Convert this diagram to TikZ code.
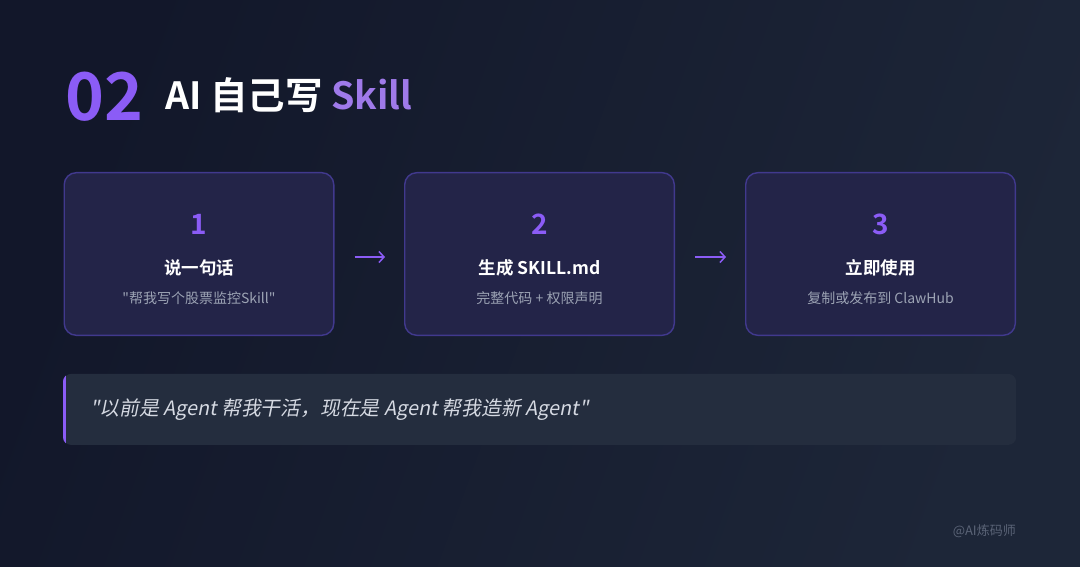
\documentclass[tikz,border=0pt]{standalone}
\usepackage{fontspec}
\setmainfont{Noto Sans CJK SC}[Ligatures=TeXOff, BoldFont={Noto Sans CJK SC Bold}, ItalicFont={Noto Sans CJK SC}, ItalicFeatures={FakeSlant=0.2}]
\usetikzlibrary{arrows.meta,positioning}
\definecolor{bgdark}{HTML}{12172A}
\definecolor{bglight}{HTML}{1D2638}
\definecolor{accent}{HTML}{8B5CF6}
\definecolor{skillpurple}{HTML}{9F7AEA}
\definecolor{cardfill}{HTML}{232448}
\definecolor{cardline}{HTML}{41398E}
\definecolor{subgray}{HTML}{9CA3B4}
\definecolor{quotefill}{HTML}{242D3E}
\definecolor{quotetext}{HTML}{D5D9E2}
\definecolor{markgray}{HTML}{5A6376}
\tikzset{
  card/.style={
    draw=cardline,
    line width=1.4pt,
    fill=cardfill,
    rounded corners=12pt,
    minimum width=269.6pt,
    minimum height=162.6pt,
    inner sep=0pt
  },
  stepnum/.style={
    font=\bfseries\fontsize{28}{28}\selectfont,
    text=accent,
    inner sep=0pt
  },
  steptitle/.style={
    font=\bfseries\fontsize{17.5}{17.5}\selectfont,
    text=white,
    inner sep=0pt
  },
  stepsub/.style={
    font=\fontsize{14}{14}\selectfont,
    text=subgray,
    inner sep=0pt
  },
  bignum/.style={
    font=\bfseries\fontsize{66}{66}\selectfont,
    text=accent,
    inner sep=0pt
  },
  heading/.style={
    font=\bfseries\fontsize{37.5}{37.5}\selectfont,
    text=white,
    inner sep=0pt
  },
  flow/.style={
    -{Straight Barb[length=5pt,width=11pt]},
    line width=1.5pt,
    draw=accent,
    shorten <=20pt,
    shorten >=19pt
  },
  quotebox/.style={
    fill=quotefill,
    rounded corners=8pt,
    minimum width=953pt,
    minimum height=71pt,
    inner sep=0pt
  },
  quotetxt/.style={
    font=\itshape\fontsize{19.8}{19.8}\selectfont,
    text=quotetext,
    inner sep=0pt
  },
  watermark/.style={
    font=\fontsize{13}{13}\selectfont,
    text=markgray,
    inner sep=0pt
  }
}
\begin{document}
\begin{tikzpicture}[x=1pt, y=1pt]

% background
\useasboundingbox (0,0) rectangle (1080,-567);
\shade[left color=bgdark, right color=bglight, shading angle=70] (0,0) rectangle (1080,-567);

% heading
\node[bignum, anchor=west] (num) at (65,-97) {02};
\node[heading, right=22pt of num, yshift=2pt] (head) {AI 自己写 \textcolor{skillpurple}{Skill}};

% steps
\node[card] (s1) at (199,-254) {};
\node[card, right=69.5pt of s1] (s2) {};
\node[card, right=70pt of s2] (s3) {};

\node[stepnum] (n1) at ([yshift=30pt]s1.center) {1};
\node[steptitle] (t1) at ([yshift=-14pt]s1.center) {说一句话};
\node[stepsub] (d1) at ([yshift=-44pt]s1.center) {"帮我写个股票监控Skill"};

\node[stepnum] (n2) at ([yshift=30pt]s2.center) {2};
\node[steptitle] (t2) at ([yshift=-14pt]s2.center) {生成 SKILL.md};
\node[stepsub] (d2) at ([yshift=-44pt]s2.center) {完整代码 + 权限声明};

\node[stepnum] (n3) at ([yshift=30pt]s3.center) {3};
\node[steptitle] (t3) at ([yshift=-14pt]s3.center) {立即使用};
\node[stepsub] (d3) at ([yshift=-44pt]s3.center) {复制或发布到 ClawHub};

\draw[flow] ([yshift=-3pt]s1.east) -- ([yshift=-3pt]s2.west);
\draw[flow] ([yshift=-3pt]s2.east) -- ([yshift=-3pt]s3.west);

% quote
\node[quotebox, below right=37.7pt and -0.5pt of s1.south west] (quote) {};
\begin{scope}
  \clip[rounded corners=8pt] (quote.north west) rectangle (quote.south east);
  \fill[accent] (quote.north west) rectangle ([xshift=3pt]quote.south west);
\end{scope}
\node[quotetxt, anchor=west] (qt) at ([xshift=27pt]quote.west) {"以前是 Agent 帮我干活，现在是 Agent 帮我造新 Agent"};

\node[watermark, anchor=east] (wm) at (1016,-531) {@AI炼码师};

\end{tikzpicture}
\end{document}
